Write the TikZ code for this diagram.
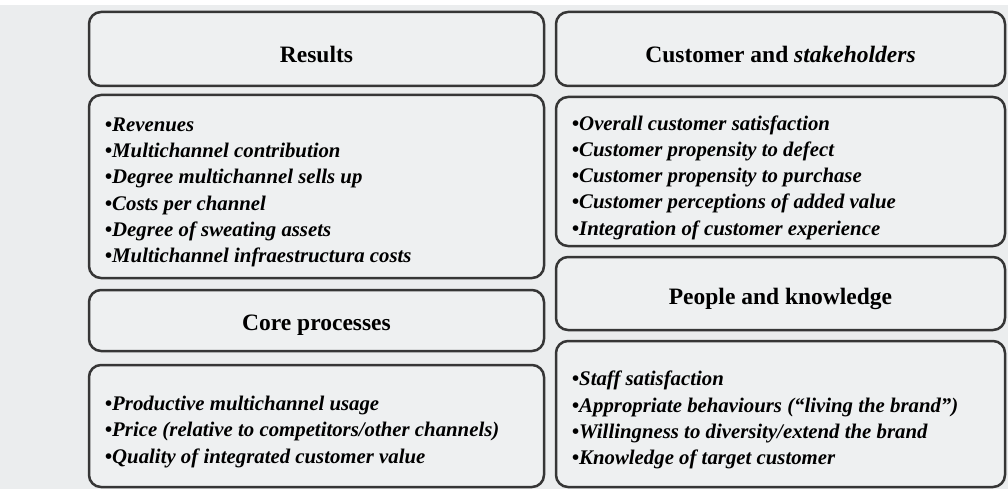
\documentclass[tikz,border=0pt]{standalone}
\usepackage{fontspec}
\setmainfont{Liberation Serif}
\definecolor{pagegray}{HTML}{EBEDEE}
\definecolor{boxgray}{HTML}{EEF0F1}
\definecolor{edgegray}{HTML}{363636}
\tikzset{
  panel/.style={draw=edgegray, line width=2.5pt, rounded corners=12pt, fill=boxgray, inner sep=0pt},
  headtext/.style={inner sep=0pt, yshift=-5pt, font=\fontsize{23.5}{27}\selectfont\bfseries},
  listtext/.style={inner sep=0pt, anchor=west, yshift=-6pt, align=left,
    font=\fontsize{20.8}{26.2}\selectfont\bfseries\itshape},
}
\begin{document}
\begin{tikzpicture}[x=1pt,y=-1pt]
    % Fondo
    \fill[pagegray] (0,0) rectangle (1008,489);
    \fill[white] (0,0) rectangle (1008,5);
    \useasboundingbox (0,0) rectangle (1008,489);

    % Columna izquierda
    \node[panel, minimum width=455pt, minimum height=74pt] (results) at (316.5,49) {};
    \node[headtext] (resultsTitle) at (results) {Results};
    \node[panel, minimum width=455pt, minimum height=183pt] (resultsList) at (316.5,186.5) {};
    \node[listtext] (resultsItems) at ([xshift=17pt]resultsList.west)
        {•Revenues\\ •Multichannel contribution\\ •Degree multichannel sells up\\
         •Costs per channel\\ •Degree of sweating assets\\ •Multichannel infraestructura costs};
    \node[panel, minimum width=455pt, minimum height=61pt] (core) at (316.5,320.5) {};
    \node[headtext] (coreTitle) at (core) {Core processes};
    \node[panel, minimum width=455pt, minimum height=122pt] (coreList) at (316.5,426) {};
    \node[listtext] (coreItems) at ([xshift=17pt]coreList.west)
        {•Productive multichannel usage\\ •Price (relative to competitors/other channels)\\
         •Quality of integrated customer value};

    % Columna derecha
    \node[panel, minimum width=449pt, minimum height=74pt] (customer) at (780.5,49) {};
    \node[headtext] (customerTitle) at (customer) {Customer and \textit{stakeholders}};
    \node[panel, minimum width=449pt, minimum height=149pt] (customerList) at (780.5,171.5) {};
    \node[listtext] (customerItems) at ([xshift=17pt]customerList.west)
        {•Overall customer satisfaction\\ •Customer propensity to defect\\ •Customer propensity to purchase\\
         •Customer perceptions of added value\\ •Integration of customer experience};
    \node[panel, minimum width=449pt, minimum height=73pt] (people) at (780.5,293.5) {};
    \node[headtext] (peopleTitle) at (people) {People and knowledge};
    \node[panel, minimum width=449pt, minimum height=146pt] (peopleList) at (780.5,414) {};
    \node[listtext] (peopleItems) at ([xshift=17pt]peopleList.west)
        {•Staff satisfaction\\ •Appropriate behaviours (“living the brand”)\\
         •Willingness to diversity/extend the brand\\ •Knowledge of target customer};
\end{tikzpicture}
\end{document}
